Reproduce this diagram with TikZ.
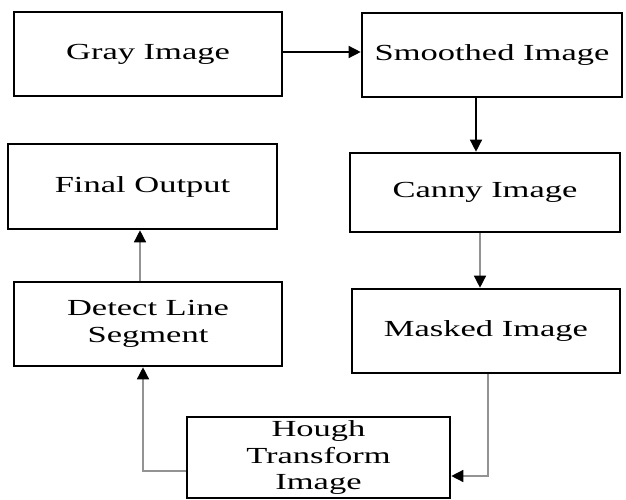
\documentclass[tikz,border=0pt]{standalone}
\usepackage{fontspec}
\setmainfont[FakeStretch=1.5]{Liberation Serif}
\usetikzlibrary{arrows.meta,calc}
\begin{document}
\begin{tikzpicture}[x=1pt,y=-1pt,
  box/.style={draw=black,line width=2.6pt,inner sep=0pt,align=center,
    font=\fontsize{23}{26.5}\selectfont},
  conn/.style={line width=1.4pt,draw=#1,-{Triangle[length=12pt,width=12pt,color=black]}},
  conn/.default=black]
\useasboundingbox (0,0) rectangle (626,500);
\node[box,minimum width=268pt,minimum height=84pt] (gray) at (148,54) {Gray Image};
\node[box,minimum width=260pt,minimum height=84pt] (smooth) at (492,55) {Smoothed Image};
\node[box,minimum width=269pt,minimum height=85pt] (final) at (142.5,186.5) {Final Output};
\node[box,minimum width=270pt,minimum height=79pt] (canny) at (485,192.5) {Canny Image};
\node[box,minimum width=268pt,minimum height=84pt] (detect) at (148,324) {Detect Line\\Segment};
\node[box,minimum width=268pt,minimum height=84pt] (masked) at (486,331) {Masked Image};
\node[box,minimum width=263pt,minimum height=81pt] (hough) at (318.5,457.5) {Hough\\Transform\\Image};
\draw[conn] ([yshift=2pt]gray.east) -- ([yshift=2pt]gray.east -| smooth.west);
\draw[conn] ([xshift=-16pt]smooth.south) -- ([xshift=-16pt]smooth.south |- canny.north);
\draw[conn=gray!85] ([xshift=-5pt]canny.south) -- ([xshift=-5pt]canny.south |- masked.north);
\draw[conn=gray!85] ([xshift=2pt]masked.south) |- ([yshift=-18.5pt]hough.east);
\draw[conn=gray!85] ([yshift=-13.5pt]hough.west) -| ([xshift=-5pt]detect.south);
\draw[conn=gray!85] ([xshift=-8pt]detect.north) -- ([xshift=-8pt]detect.north |- final.south);
\end{tikzpicture}
\end{document}
